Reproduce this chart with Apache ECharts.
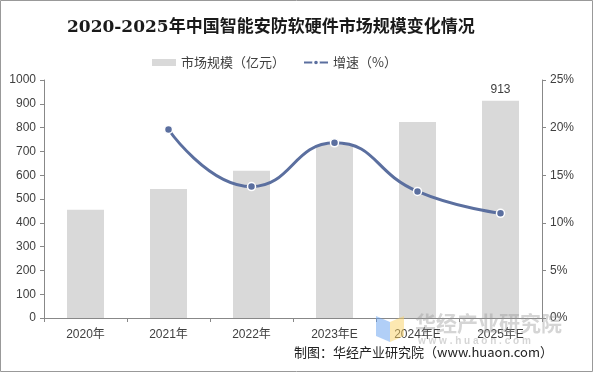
<!DOCTYPE html>
<html><head><meta charset="utf-8">
<script src="https://cdn.jsdelivr.net/npm/echarts@6/dist/echarts.min.js"></script>
<style>html,body{margin:0;padding:0;background:#fff}#c{width:593px;height:372px}</style>
</head><body><div id="c"></div>
<script>
const categories = ['2020年','2021年','2022年','2023年E','2024年E','2025年E'];
const marketSize = [455, 542, 619, 727, 824, 913];
const growthRate = [null, 19.8, 13.8, 18.4, 13.3, 11.0];
const leftTicks = [0, 1000, 100];
const rightTicks = [0, 25, 5];

const chart = echarts.init(document.getElementById('c'));
const txt = '#404040';
const font = 'Liberation Sans, Arial, Noto Sans CJK SC, sans-serif';
chart.setOption({
  animation: false,
  textStyle: {fontFamily: font},
  title: {
    text: '2020-2025年中国智能安防软硬件市场规模变化情况',
    left: 62, top: 14,
    textStyle: {fontFamily: 'DejaVu Serif, Noto Sans CJK SC, serif', fontSize: 17, fontWeight: 'bold', color: '#1a1a1a'}
  },
  legend: {
    top: 51, left: 147, itemGap: 18,
    textStyle: {fontSize: 13, color: txt, fontFamily: 'Noto Sans CJK SC, sans-serif'},
    data: [
      {name: '市场规模（亿元）', icon: 'rect', itemStyle: {color: '#d9d9d9'}},
      {name: '增速（%）'}
    ],
    itemWidth: 24, itemHeight: 7
  },
  grid: {left: 44, right: 51, top: 80, bottom: 54},
  xAxis: {
    type: 'category', data: categories,
    axisLine: {lineStyle: {color: '#888'}},
    axisTick: {show: true, length: 4, lineStyle: {color: '#888'}},
    axisLabel: {color: txt, fontSize: 12, margin: 11}
  },
  yAxis: [
    {type: 'value', min: leftTicks[0], max: leftTicks[1], interval: leftTicks[2],
     axisLine: {show: true, lineStyle: {color: '#888'}},
     axisTick: {show: true, length: 4, lineStyle: {color: '#888'}},
     splitLine: {show: false},
     axisLabel: {color: txt, fontSize: 12, margin: 8, formatter: v => String(v)}},
    {type: 'value', min: rightTicks[0], max: rightTicks[1], interval: rightTicks[2],
     axisLine: {show: true, lineStyle: {color: '#888'}},
     axisTick: {show: true, length: 4, lineStyle: {color: '#888'}},
     splitLine: {show: false},
     axisLabel: {color: txt, fontSize: 12, margin: 8, formatter: v => v + '%'}}
  ],
  series: [
    {name: '市场规模（亿元）', type: 'bar', data: marketSize, barWidth: 37,
     itemStyle: {color: '#d9d9d9'},
     label: {show: true, position: 'top', color: txt, fontSize: 12,
       formatter: p => p.dataIndex === marketSize.length - 1 ? p.value : ''}},
    {name: '增速（%）', type: 'line', yAxisIndex: 1, data: growthRate, smooth: true,
     symbol: 'circle', symbolSize: 8, connectNulls: false,
     lineStyle: {color: '#5b6f9f', width: 3},
     itemStyle: {color: '#5b6f9f', borderColor: '#fff', borderWidth: 1.5}}
  ],
  graphic: [
    {type: 'rect', shape: {x: 0.5, y: 0.5, width: 592, height: 371}, style: {fill: 'none', stroke: '#999', lineWidth: 1}, z: 100},
    {type: 'polygon', shape: {points: [[376,316],[390,322],[390,342],[376,336]]}, style: {fill: 'rgba(100,160,240,0.5)'}, z: 50},
    {type: 'polygon', shape: {points: [[390,322],[404,316],[404,336],[390,342]]}, style: {fill: 'rgba(250,210,100,0.5)'}, z: 50},
    {type: 'text', left: 415, top: 313, style: {text: '华经产业研究院', font: 'bold 21px Noto Sans CJK SC', fill: 'rgba(150,150,150,0.4)'}, z: 50},
    {type: 'text', left: 418, top: 336, style: {text: 'w w w . h u a o n . c o m', font: 'bold 10px Liberation Sans', fill: 'rgba(150,150,150,0.4)'}, z: 50},
    {type: 'text', right: 40, top: 346, style: {text: '制图：华经产业研究院（www.huaon.com）', font: '13px Noto Sans CJK SC', fill: '#222'}, z: 60}
  ]
});
</script></body></html>
